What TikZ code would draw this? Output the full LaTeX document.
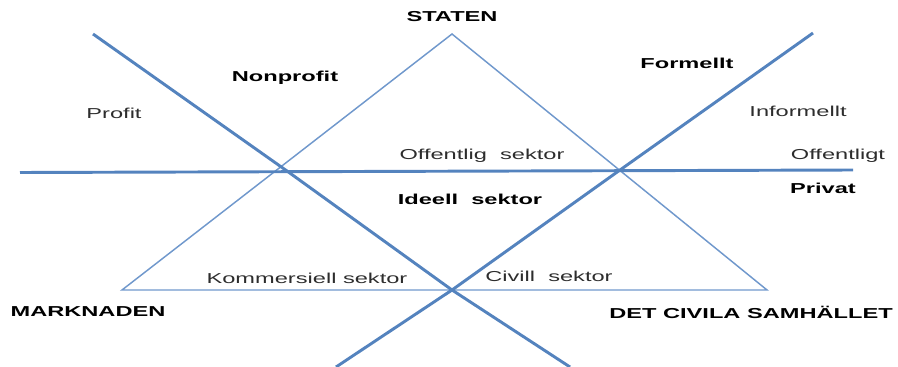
\documentclass[tikz,border=0pt]{standalone}
\usepackage{fontspec}
\setmainfont{Liberation Sans}
\newcommand\sxw[1]{\scalebox{1.64}[1]{#1}}
\definecolor{thickblue}{RGB}{84,131,190}
\definecolor{thinblue}{RGB}{112,152,204}
\definecolor{txtgray}{RGB}{45,45,45}
\tikzset{
  thickline/.style={draw=thickblue, line width=2.2pt, line join=round},
  thinline/.style={draw=thinblue, line width=1.1pt, line join=miter},
  lbl/.style={inner sep=0pt, text=txtgray, font=\fontsize{10.8}{12}\selectfont},
  blbl/.style={inner sep=0pt, text=black, font=\fontsize{10.8}{12}\selectfont\bfseries}
}
\begin{document}
\begin{tikzpicture}[x=0.75pt, y=-0.75pt]
\useasboundingbox (0,0) rectangle (898,367);
% triangle vertices
\coordinate (apex) at (452,34);
\coordinate (bl) at (122,290);
\coordinate (br) at (767,290);
\draw[thinline] (apex) -- (bl) -- (br) -- cycle;
% horizontal line
\coordinate (hl) at (20,172.5);
\coordinate (hr) at (853,170);
\draw[thickline] (hl) -- (hr);
% down-right thick line
\coordinate (a1) at (93,34);
\coordinate (a2) at (287,171);
\coordinate (mid) at (452,290);
\coordinate (a4) at (570,367);
\draw[thickline] (a1) -- (a2) -- (mid) -- (a4);
% up-right thick line
\coordinate (b1) at (813,33);
\coordinate (b2) at (620,170);
\coordinate (b4) at (336,367);
\draw[thickline] (b1) -- (b2) -- (mid) -- (b4);
% labels
\node[blbl] (staten) at (452,17) {\sxw{STATEN}};
\node[blbl] (nonprofit) at (285,78) {\sxw{Nonprofit}};
\node[lbl] (profit) at (114,113) {\sxw{Profit}};
\node[blbl] (formellt) at (687,63) {\sxw{Formellt}};
\node[lbl] (informellt) at (798,111) {\sxw{Informellt}};
\node[lbl] (offentligt) at (838,156) {\sxw{Offentligt}};
\node[blbl] (privat) at (823,188) {\sxw{Privat}};
\node[lbl] (offsek) at (482,156) {\sxw{Offentlig\ \ sektor}};
\node[blbl] (ideell) at (470,199) {\sxw{Ideell\ \ sektor}};
\node[lbl] (komm) at (307,278) {\sxw{Kommersiell sektor}};
\node[lbl] (civill) at (549,276) {\sxw{Civill\ \ sektor}};
\node[blbl] (marknaden) at (88,312) {\sxw{MARKNADEN}};
\node[blbl] (civila) at (751,312) {\sxw{DET CIVILA SAMHÄLLET}};
\end{tikzpicture}
\end{document}
